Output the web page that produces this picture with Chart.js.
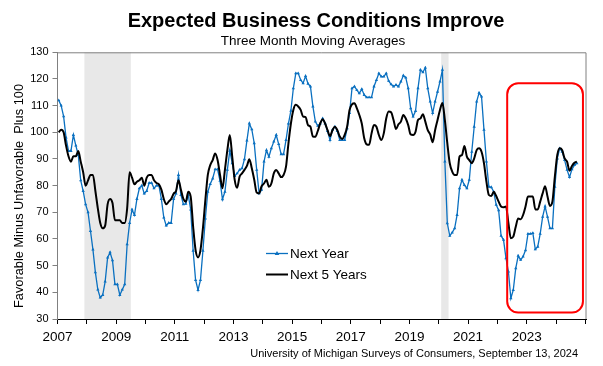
<!DOCTYPE html>
<html><head><meta charset="utf-8">
<script src="https://cdn.jsdelivr.net/npm/chart.js@4/dist/chart.umd.min.js"></script>
<style>html,body{margin:0;padding:0;background:#fff;}#wrap{width:603px;height:366px;position:relative;}</style>
</head><body><div id="wrap"><canvas id="c" width="603" height="366"></canvas></div>
<script>
// Monthly three-month moving averages, Jan 2007 .. Sep 2024
const startYear = 2007;
const nextYear = [
112,110,106,98,93,93,99,95,91.5,82,78,73,
70,63,56,47.5,41,38,39,44,53,55,52,43,
43,39,41,43,58,66,71,69,75,79,80,77,
78,81,81,79,80,80,75,68,65,66,66,75,
77,84,76.5,73,73.2,76.5,71,55.6,44.6,40.9,44.6,55.6,
67.7,77.7,80.6,82.7,86.1,86.1,81.8,74.9,77.7,85.9,93.1,88.4,
83.6,84.6,85.9,86.5,89.9,96.9,103.3,101.1,95.9,85.9,77.1,78.4,
89,93.3,90.8,94,96.5,99,95.6,91.8,91.8,97.1,103.3,108.1,
116.5,122.1,122.1,119.6,118.4,121.1,118.2,117.2,109.7,104,102.4,103.3,
105.2,103.3,100.5,97.1,100.9,102.1,100.5,97.1,97.1,97.1,101.5,107.2,
116.5,117.2,115.8,114.6,116.2,114,113.1,113.1,113.1,117.2,119.6,122.1,
120.9,120.9,122.1,119.3,118,117.2,117.8,117.2,119,121.3,120.5,116.5,
109,105.9,108,116.5,123.4,122.5,124.2,116.5,111.5,107.2,111.5,115.2,
119,123.4,89,65.9,61.2,62.4,64,69,79,82.2,80.2,79,
82.2,92.7,102.1,111.5,114.8,113.4,100.9,89,79.6,79.4,77.7,72.8,
70.8,61.2,59.7,52.8,47.8,37.8,40.9,49,53.7,52.2,53.4,55.8,
61.9,61.9,62.2,56.1,57.1,61.9,68.3,72.2,68.3,64,64,79.6,
90.2,94,92.7,89.6,85.9,83.2,86.1,87.7,88.4
];
const next5Years = [
100,101,100,95,91,89,91,91,93,89,85,80,
82,84,84,78,71.5,66,64,65,73,75,73.5,67,
67,67,66,66,71.5,85,83,80.5,81.5,82,83,80,
83,84,84,82,81,80.5,78.5,75,73,74,75,77,
78,82,78.5,75,74,77.7,75.9,64.6,55.8,53.1,55.8,64,
74.6,84,87.7,89.6,92.1,89.6,84,79,85.9,93.3,99,90.8,
82.2,79.2,83.4,84.6,85.9,87.4,89.9,86.5,82.2,77.4,77.1,79.8,
80.8,82.2,79.6,80.8,84.6,85.9,84.6,83.2,84,87.1,95.9,103.3,
108.4,110.3,109.7,108.4,105.9,105.7,102.7,102.1,98.4,98.3,100.5,103.3,
104.9,103.3,100.8,98.6,100.8,102.1,100.8,98.4,97.5,99,102.1,108.4,
110.5,110.9,109,106.5,103.3,97.8,95.5,95.3,99.6,102.7,102.1,99,
97.1,99.6,105.2,107.8,107.5,104.6,101.2,103,104,106.5,105.2,102.7,
99.2,99,100.2,104.6,105.2,106.8,104,100.8,99.2,96.3,100.8,104.6,
108.4,111,104.6,95.9,88.4,85.3,84,84,90.9,91.5,94.9,90.9,
89.6,88.4,90.2,93.3,94,92.7,88.4,81.5,76.5,76.1,77.7,76.1,
74,72.2,71.9,72.2,65.9,60.3,60.9,64.6,67.7,67.4,69,72.2,
75.9,75.9,75.9,71.1,71.1,74,77.1,79.8,75.9,72.4,74,83.4,
91.5,94,93.3,90.2,89,85.6,87.4,88.6,89
];
const yearTickLabels = ['2007','2009','2011','2013','2015','2017','2019','2021','2023'];
const seriesNames = ['Next Year','Next 5 Years'];
// recession periods as [first month index, last month index] (0 = Jan 2007)
const recessions = [[11,29],[157,159]];
// highlighted region: month-axis range and value range
const highlight = {x0: 184, x1: 215, yTop: 118.4, yBottom: 32.4};

const toPoints = arr => arr.map((v,i) => ({x: i + 0.5, y: v}));
const BLUE = '#0a70c0';
const FONT = '"Liberation Sans", Arial, sans-serif';

const decor = {
  id: 'decor',
  beforeDatasetsDraw(chart) {
    const {ctx, chartArea: a, scales: {x}} = chart;
    ctx.save();
    ctx.fillStyle = '#e8e8e8';
    recessions.forEach(([s,e]) => {
      const l = x.getPixelForValue(s), r = x.getPixelForValue(e + 1);
      ctx.fillRect(l, a.top, r - l, a.bottom - a.top);
    });
    ctx.restore();
  },
  afterDatasetsDraw(chart) {
    const {ctx, chartArea: a, scales: {x, y}} = chart;
    ctx.save();
    ctx.strokeStyle = '#808080'; ctx.lineWidth = 1;
    ctx.beginPath();
    ctx.moveTo(a.left, a.top + 0.5); ctx.lineTo(a.right - 0.5, a.top + 0.5); ctx.lineTo(a.right - 0.5, a.bottom);
    ctx.stroke();
    const l = x.getPixelForValue(highlight.x0), r = x.getPixelForValue(highlight.x1);
    const t = y.getPixelForValue(highlight.yTop), b = y.getPixelForValue(highlight.yBottom);
    ctx.strokeStyle = '#ff0000'; ctx.lineWidth = 2;
    ctx.beginPath(); ctx.roundRect(l, t, r - l, b - t, 11); ctx.stroke();
    ctx.restore();
  },
  afterDraw(chart) {
    const {ctx} = chart;
    ctx.save();
    ctx.fillStyle = '#000';
    ctx.textAlign = 'center'; ctx.textBaseline = 'alphabetic';
    ctx.font = 'bold 20px ' + FONT;
    ctx.fillText('Expected Business Conditions Improve', 316, 27);
    ctx.font = '13.5px ' + FONT;
    ctx.fillText('Three Month Moving Averages', 313, 45);
    ctx.save();
    ctx.translate(19, 196); ctx.rotate(-Math.PI/2);
    ctx.font = '12.8px ' + FONT; ctx.textBaseline = 'middle';
    ctx.fillText('Favorable Minus Unfavorable  Plus 100', 0, 0);
    ctx.restore();
    ctx.font = '11px ' + FONT; ctx.textAlign = 'right';
    ctx.fillText('University of Michigan Surveys of Consumers, September 13, 2024', 578, 357);
    const ds = chart.data.datasets;
    const rows = [253.5, 274.5];
    ds.forEach((d, i) => {
      const yy = rows[i];
      ctx.strokeStyle = d.borderColor; ctx.lineWidth = d.borderWidth;
      ctx.beginPath(); ctx.moveTo(266, yy); ctx.lineTo(288, yy); ctx.stroke();
      if (d.pointRadius > 0) {
        ctx.fillStyle = d.borderColor;
        ctx.beginPath(); ctx.moveTo(277, yy - 2.5); ctx.lineTo(279.3, yy + 1.5); ctx.lineTo(274.7, yy + 1.5); ctx.closePath(); ctx.fill();
      }
      ctx.fillStyle = '#000'; ctx.font = '13.5px ' + FONT; ctx.textAlign = 'left'; ctx.textBaseline = 'middle';
      ctx.fillText(d.label, 290, yy + 0.5);
    });
    ctx.restore();
  }
};

new Chart(document.getElementById('c'), {
  type: 'line',
  data: {
    datasets: [
      {label: seriesNames[0], data: toPoints(nextYear), borderColor: BLUE, backgroundColor: BLUE,
       borderWidth: 1.3, pointStyle: 'triangle', pointRadius: 1.9, pointBorderWidth: 0, tension: 0, order: 2},
      {label: seriesNames[1], data: toPoints(next5Years), borderColor: '#000', backgroundColor: '#000',
       borderWidth: 2, pointRadius: 0, cubicInterpolationMode: 'monotone', order: 1}
    ]
  },
  options: {
    responsive: false, animation: false, devicePixelRatio: 1,
    layout: {padding: {top: 52.3, right: 16.5, left: 0, bottom: 0}},
    plugins: {legend: {display: false}, title: {display: false}, tooltip: {enabled: false}},
    scales: {
      x: {
        type: 'linear', min: 0, max: 216.45,
        afterFit: s => { s.height = 47; },
        ticks: {stepSize: 12, includeBounds: false, autoSkip: false, maxRotation: 0, padding: 5,
          color: '#000', font: {family: FONT, size: 13.5},
          callback: v => { const lab = String(startYear + Math.round(v / 12)); return yearTickLabels.includes(lab) ? lab : ''; }},
        grid: {display: true, drawOnChartArea: false, drawTicks: true, tickLength: 5, color: '#000', tickColor: '#000'},
        border: {display: true, color: '#000', width: 1}
      },
      y: {
        min: 30, max: 130,
        afterFit: s => { s.width = 57.5; },
        ticks: {stepSize: 10, padding: 4, color: '#000', font: {family: FONT, size: 11}},
        grid: {display: true, drawOnChartArea: false, drawTicks: true, tickLength: 5, color: '#808080', tickColor: '#808080'},
        border: {display: true, color: '#808080', width: 1}
      }
    }
  },
  plugins: [decor]
});
</script></body></html>
